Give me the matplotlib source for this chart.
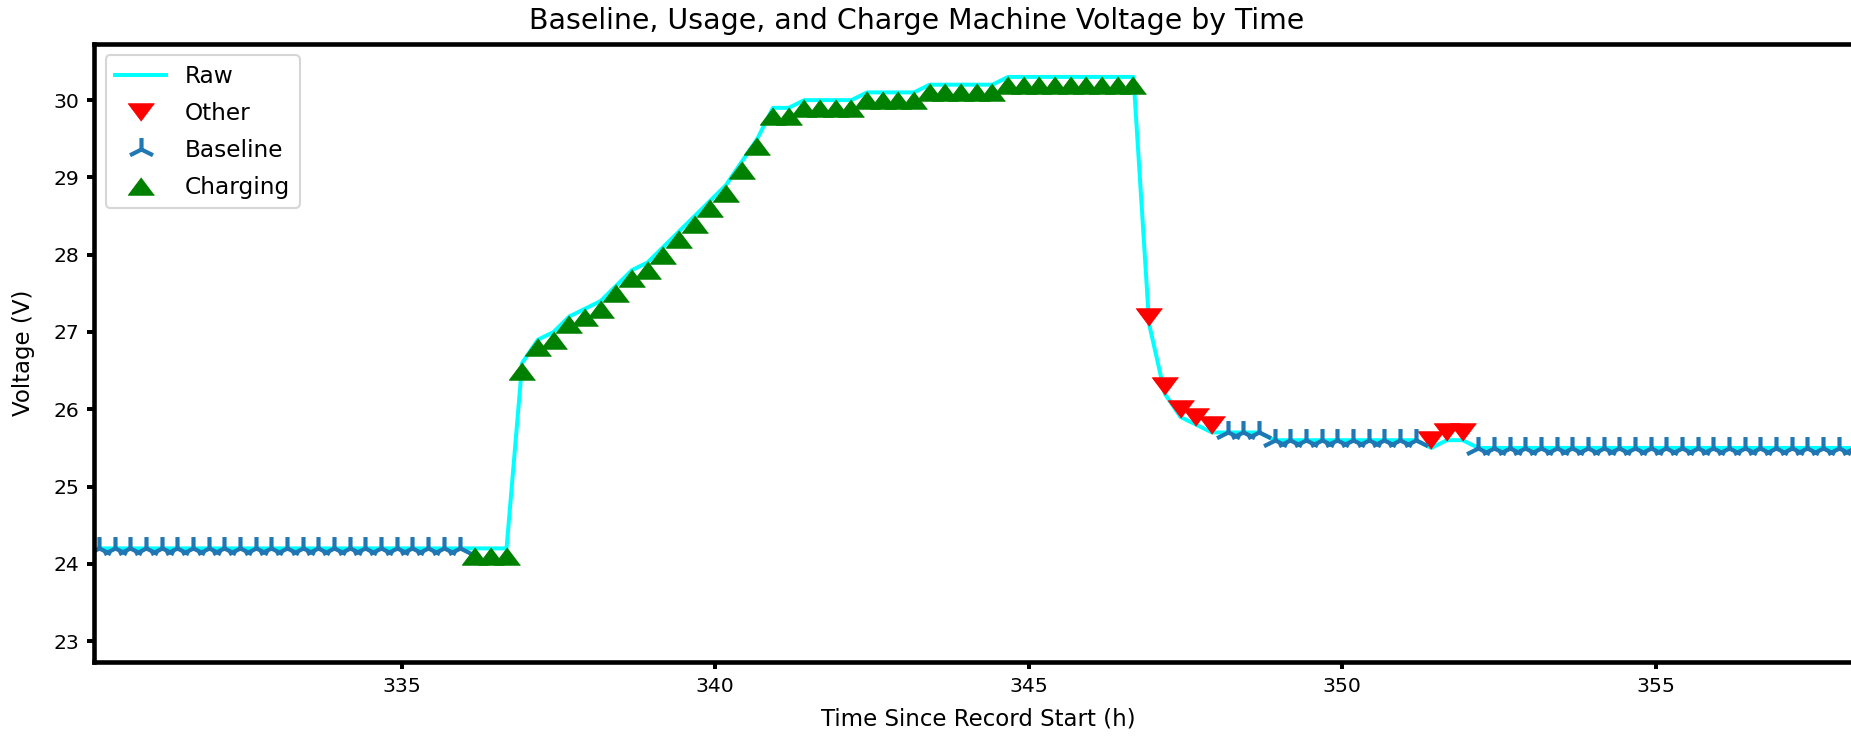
import matplotlib.pyplot as plt
from matplotlib.path import Path

# Sample times (h since record start), one sample every 15 min
times = [
    330.17, 330.42, 330.67, 330.92, 331.17, 331.42, 331.67, 331.92,
    332.17, 332.42, 332.67, 332.92, 333.17, 333.42, 333.67, 333.92,
    334.17, 334.42, 334.67, 334.92, 335.17, 335.42, 335.67, 335.92,
    336.17, 336.42, 336.67, 336.92, 337.17, 337.42, 337.67, 337.92,
    338.17, 338.42, 338.67, 338.92, 339.17, 339.42, 339.67, 339.92,
    340.17, 340.42, 340.67, 340.92, 341.17, 341.42, 341.67, 341.92,
    342.17, 342.42, 342.67, 342.92, 343.17, 343.42, 343.67, 343.92,
    344.17, 344.42, 344.67, 344.92, 345.17, 345.42, 345.67, 345.92,
    346.17, 346.42, 346.67, 346.92, 347.17, 347.42, 347.67, 347.92,
    348.17, 348.42, 348.67, 348.92, 349.17, 349.42, 349.67, 349.92,
    350.17, 350.42, 350.67, 350.92, 351.17, 351.42, 351.67, 351.92,
    352.17, 352.42, 352.67, 352.92, 353.17, 353.42, 353.67, 353.92,
    354.17, 354.42, 354.67, 354.92, 355.17, 355.42, 355.67, 355.92,
    356.17, 356.42, 356.67, 356.92, 357.17, 357.42, 357.67, 357.92,
    358.17,
]

# Raw machine voltage (V)
voltage = [
    24.2, 24.2, 24.2, 24.2, 24.2, 24.2, 24.2, 24.2,
    24.2, 24.2, 24.2, 24.2, 24.2, 24.2, 24.2, 24.2,
    24.2, 24.2, 24.2, 24.2, 24.2, 24.2, 24.2, 24.2,
    24.2, 24.2, 24.2, 26.6, 26.9, 27.0, 27.2, 27.3,
    27.4, 27.6, 27.8, 27.9, 28.1, 28.3, 28.5, 28.7,
    28.9, 29.2, 29.5, 29.9, 29.9, 30.0, 30.0, 30.0,
    30.0, 30.1, 30.1, 30.1, 30.1, 30.2, 30.2, 30.2,
    30.2, 30.2, 30.3, 30.3, 30.3, 30.3, 30.3, 30.3,
    30.3, 30.3, 30.3, 27.1, 26.2, 25.9, 25.8, 25.7,
    25.7, 25.7, 25.7, 25.6, 25.6, 25.6, 25.6, 25.6,
    25.6, 25.6, 25.6, 25.6, 25.6, 25.5, 25.6, 25.6,
    25.5, 25.5, 25.5, 25.5, 25.5, 25.5, 25.5, 25.5,
    25.5, 25.5, 25.5, 25.5, 25.5, 25.5, 25.5, 25.5,
    25.5, 25.5, 25.5, 25.5, 25.5, 25.5, 25.5, 25.5,
    25.5,
]

# State of each sample: B = baseline, C = charging, O = other
state = [
    'B', 'B', 'B', 'B', 'B', 'B', 'B', 'B',
    'B', 'B', 'B', 'B', 'B', 'B', 'B', 'B',
    'B', 'B', 'B', 'B', 'B', 'B', 'B', 'B',
    'C', 'C', 'C', 'C', 'C', 'C', 'C', 'C',
    'C', 'C', 'C', 'C', 'C', 'C', 'C', 'C',
    'C', 'C', 'C', 'C', 'C', 'C', 'C', 'C',
    'C', 'C', 'C', 'C', 'C', 'C', 'C', 'C',
    'C', 'C', 'C', 'C', 'C', 'C', 'C', 'C',
    'C', 'C', 'C', 'O', 'O', 'O', 'O', 'O',
    'B', 'B', 'B', 'B', 'B', 'B', 'B', 'B',
    'B', 'B', 'B', 'B', 'B', 'O', 'O', 'O',
    'B', 'B', 'B', 'B', 'B', 'B', 'B', 'B',
    'B', 'B', 'B', 'B', 'B', 'B', 'B', 'B',
    'B', 'B', 'B', 'B', 'B', 'B', 'B', 'B',
    'B',
]

# wide triangle markers, as they appear in the original
w = 1.5
tri_up_wide = [(0, 1), (-w, -1), (w, -1)]
tri_down_wide = [(0, -1), (-w, 1), (w, 1)]
s = 1.25
tri_star = Path([[0, 0], [0, 1], [0, 0], [0.8 * s, -0.5], [0, 0], [-0.8 * s, -0.5]],
                [Path.MOVETO, Path.LINETO, Path.MOVETO, Path.LINETO, Path.MOVETO, Path.LINETO])

# marker style per state (offset in V places the markers just off the raw line)
styles = {
    'O': dict(label='Other', marker=tri_down_wide, color='red', ms=12.5, mew=0.5, offset=0.1),
    'B': dict(label='Baseline', marker=tri_star, color='#1f77b4', ms=11, mew=2.0, mfc='none', offset=0.0),
    'C': dict(label='Charging', marker=tri_up_wide, color='green', ms=12.5, mew=0.5, offset=-0.1),
}

fig = plt.figure(figsize=(1852 / 150, 736 / 150), dpi=150)
ax = fig.add_axes([94 / 1852, 1 - 662 / 736, (1862 - 94) / 1852, (662 - 43.7) / 736])

ax.plot(times, voltage, color='cyan', lw=1.9, label='Raw')

for key in ['O', 'B', 'C']:
    st = dict(styles[key])
    off = st.pop('offset')
    xs = [t for t, c in zip(times, state) if c == key]
    ys = [v + off for v, c in zip(voltage, state) if c == key]
    ax.plot(xs, ys, linestyle='none', **st)

ax.set_xlim(330.09, 358.29)
ax.set_ylim(22.73, 30.73)
ax.set_yticks([23, 24, 25, 26, 27, 28, 29, 30])
ax.set_xticks([335, 340, 345, 350, 355])

for sp in ax.spines.values():
    sp.set_linewidth(2.2)
ax.tick_params(width=1.9, length=3.5, labelsize=9.8)

ax.set_xlabel('Time Since Record Start (h)', fontsize=11, labelpad=5.5)
ax.set_ylabel('Voltage (V)', fontsize=11, labelpad=9)
fig.text(917 / 1852, 1 - 21 / 736, 'Baseline, Usage, and Charge Machine Voltage by Time',
         ha='center', va='center', fontsize=13.6)

ax.legend(loc='upper left', fontsize=11.2, labelspacing=0.6, handlelength=2.2)

fig.savefig('out.png', dpi=150)
